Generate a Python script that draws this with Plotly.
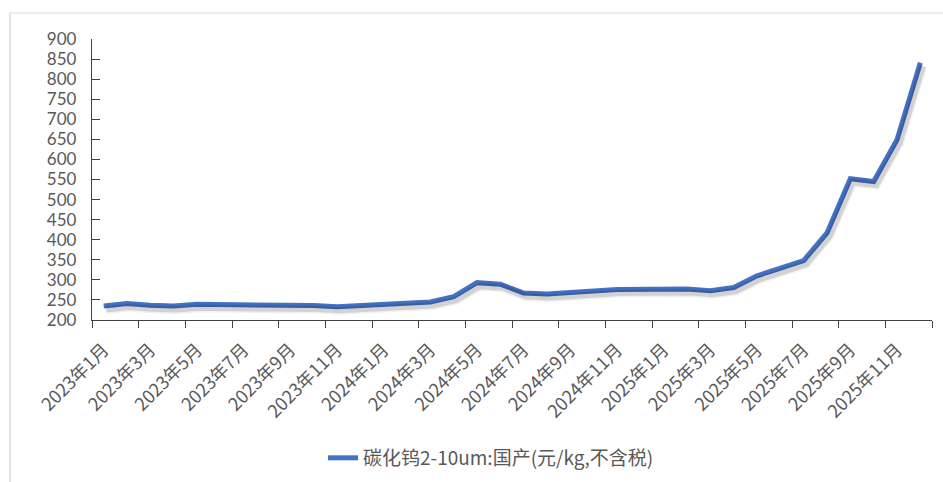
import plotly.graph_objects as go

# Monthly price series, Jan 2023 – Dec 2025
months = [f"{y}年{m}月" for y in (2023, 2024, 2025) for m in range(1, 13)]
prices = [
    235, 241, 237, 235, 239, 239, 236, 237, 238, 236, 233, 236,
    238, 241, 245, 258, 293, 289, 267, 265, 270, 272, 276, 276,
    277, 277, 273, 281, 310, 329, 348, 417, 552, 545, 649, 841,
]
series_name = "碳化钨2-10um:国产(元/kg,不含税)"
y_ticks = list(range(200, 901, 50))

LINE_BLUE = "#4472C4"
GREY_TEXT = "#595959"
FONT = "Noto Sans CJK SC"

fig = go.Figure()

# soft drop shadow: same series on overlaid axes nudged right/down a few pixels
for w, a in ((9, 0.06), (6, 0.12)):
    fig.add_trace(go.Scatter(
        x=list(range(len(months))), y=prices, mode="lines",
        line=dict(color=f"rgba(0,0,0,{a})", width=w),
        xaxis="x2", yaxis="y2", showlegend=False, hoverinfo="skip",
    ))

fig.add_trace(go.Scatter(
    x=months, y=prices, mode="lines", name=series_name,
    line=dict(color=LINE_BLUE, width=5),
))

px_per_cat = 840 / len(months)
px_per_unit = 281 / 700
dx = 2.5 / px_per_cat
dy = 3.5 / px_per_unit

fig.update_layout(
    width=943, height=482,
    margin=dict(l=92, r=11, t=39, b=162, autoexpand=False),
    paper_bgcolor="white", plot_bgcolor="white",
    font=dict(family=FONT, color=GREY_TEXT, size=14),
    xaxis=dict(
        type="category", range=[-0.5, len(months) - 0.5],
        tickmode="linear", tick0=0, dtick=2, tickson="boundaries",
        ticks="outside", ticklen=7, tickcolor="#404040", tickwidth=1.3,
        showline=True, linecolor="#404040", linewidth=1.3,
        tickangle=-45, tickfont=dict(size=18, color=GREY_TEXT),
        ticklabelstandoff=11, automargin=False,
        showgrid=False, zeroline=False,
    ),
    yaxis=dict(
        range=[200, 900], tickvals=y_ticks,
        ticks="inside", ticklen=8, tickcolor="#404040", tickwidth=1.3,
        showline=True, linecolor="#404040", linewidth=1.3,
        tickfont=dict(family="Lato", size=17, color=GREY_TEXT),
        ticklabelstandoff=11, automargin=False,
        showgrid=False, zeroline=False,
    ),
    xaxis2=dict(overlaying="x", range=[-0.5 - dx, len(months) - 0.5 - dx],
                visible=False, showgrid=False, zeroline=False),
    yaxis2=dict(overlaying="y", range=[200 + dy, 900 + dy],
                visible=False, showgrid=False, zeroline=False),
    showlegend=True,
    legend=dict(
        orientation="h", x=0.275, xanchor="left", y=-0.491, yanchor="middle",
        font=dict(size=19, color=GREY_TEXT), bgcolor="rgba(0,0,0,0)",
    ),
    shapes=[
        dict(type="line", xref="paper", yref="paper",
             x0=-0.0976, x1=1.02, y0=1.0925, y1=1.0925,
             line=dict(color="#D9D9D9", width=1)),
        dict(type="line", xref="paper", yref="paper",
             x0=-0.0976, x1=-0.0976, y0=1.0925, y1=-0.6,
             line=dict(color="#D9D9D9", width=1.5)),
    ],
)

fig.write_html("out.html")
